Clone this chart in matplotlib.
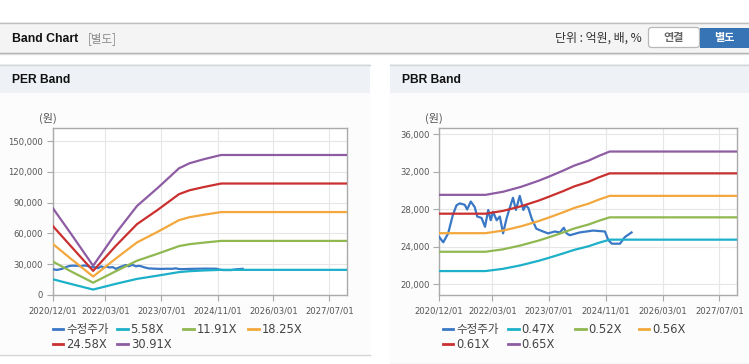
import numpy as np
import matplotlib
matplotlib.use("Agg")
import matplotlib.pyplot as plt
import matplotlib.dates as mdates
from matplotlib.patches import Rectangle, FancyBboxPatch
from matplotlib.lines import Line2D
from matplotlib.ticker import FuncFormatter, FixedLocator

plt.rcParams['font.family'] = ['DejaVu Sans', 'Noto Sans CJK KR']

# ---------------- data ----------------
price_dates = ['2020-12-01', '2021-01-04', '2021-02-15', '2021-03-28', '2021-04-28', '2021-05-25',
               '2021-07-07', '2021-07-28', '2021-08-28', '2021-10-01', '2021-10-22', '2021-11-28',
               '2021-12-28', '2022-01-25', '2022-02-15', '2022-03-07', '2022-04-07', '2022-05-04',
               '2022-06-01', '2022-07-01', '2022-07-28', '2022-08-25', '2022-09-19', '2022-10-22',
               '2022-11-22', '2022-12-13', '2023-01-04', '2023-02-01', '2023-03-13', '2023-05-10',
               '2023-06-22', '2023-08-19', '2023-10-01', '2023-11-04', '2023-11-28', '2023-12-25',
               '2024-03-19', '2024-07-13', '2024-10-22', '2024-11-19', '2024-12-19', '2025-02-28',
               '2025-04-10', '2025-06-07']
price = [25000, 24450, 25400, 27400, 28400, 28600,
         28450, 27950, 28800, 28200, 27200, 27050,
         26100, 27900, 26800, 27700, 26800, 27200,
         25400, 27000, 28100, 29200, 27900, 29400,
         27900, 28400, 28100, 27000, 25900, 25600,
         25400, 25600, 25500, 26000, 25400, 25200,
         25500, 25700, 25600, 24700, 24300, 24300,
         25000, 25500]

per_dates = ['2020-12-01', '2021-05-01', '2021-11-15', '2022-06-01', '2022-12-01', '2023-06-01',
             '2023-12-01', '2024-03-01', '2024-07-01', '2024-12-01', '2027-12-01']
per_labels = ['5.58X', '11.91X', '18.25X', '24.58X', '30.91X']
per_558 = [15300, 10900, 5300, 10900, 15700, 18900, 22300, 23200, 23900, 24500, 24500]
per_1191 = [32500, 23300, 12000, 23200, 33400, 40300, 47600, 49500, 51000, 52700, 52700]
per_1825 = [49600, 35700, 18000, 35600, 51200, 61700, 72900, 75800, 78100, 80800, 80800]
per_2458 = [67000, 48100, 23500, 48000, 69000, 83100, 98200, 102000, 105100, 108600, 108600]
per_3091 = [84400, 60500, 28500, 60300, 86700, 104500, 123400, 128300, 132200, 136400, 136400]

pbr_dates = ['2020-12-01', '2022-01-01', '2022-06-01', '2022-11-01', '2023-04-01', '2023-07-01',
             '2023-11-01', '2024-02-01', '2024-06-01', '2024-09-01', '2024-12-01', '2027-12-01']
pbr_labels = ['0.47X', '0.52X', '0.56X', '0.61X', '0.65X']
pbr_047 = [21380, 21380, 21620, 22000, 22470, 22800, 23270, 23640, 24020, 24400, 24730, 24730]
pbr_052 = [23440, 23440, 23700, 24120, 24630, 24990, 25510, 25920, 26340, 26750, 27110, 27110]
pbr_056 = [25420, 25420, 25700, 26150, 26710, 27100, 27660, 28110, 28560, 29010, 29400, 29400]
pbr_061 = [27500, 27500, 27800, 28290, 28890, 29320, 29920, 30410, 30890, 31380, 31800, 31800]
pbr_065 = [29510, 29510, 29840, 30360, 31010, 31460, 32110, 32630, 33150, 33670, 34130, 34130]

price_label = '수정주가'
x_ticks = ['2020-12-01', '2022-03-01', '2023-07-01', '2024-11-01', '2026-03-01', '2027-07-01']
x_range = ['2020-12-01', '2027-12-01']
per_yticks = [0, 30000, 60000, 90000, 120000, 150000]
pbr_yticks = [20000, 24000, 28000, 32000, 36000]

colors = ['#3a78c6', '#1cb0c9', '#8fb850', '#f2a83c', '#c9302f', '#8e5ca3']

# ---------------- figure ----------------
W, H = 749, 364
fig = plt.figure(figsize=(W / 100, H / 100), dpi=100, facecolor='white')


def rect(x0, y0, x1, y1, fc, z=-5):
    fig.add_artist(Rectangle((x0 / W, 1 - y1 / H), (x1 - x0) / W, (y1 - y0) / H,
                             transform=fig.transFigure, fc=fc, ec='none', lw=0, zorder=z))


def hline(x0, x1, y, color, lw=1.0, z=-4):
    fig.add_artist(Line2D([x0 / W, x1 / W], [1 - y / H, 1 - y / H], transform=fig.transFigure,
                          color=color, lw=lw, zorder=z))


def text(x, y, s, **kw):
    fig.text(x / W, 1 - y / H, s, **kw)


# header
rect(0, 22, 749, 53, '#f4f4f4')
hline(0, 749, 22.5, '#bdbdbd')
hline(0, 749, 52.5, '#a9a9a9')
hline(0, 749, 53.5, '#dedede')
text(11.5, 38.5, 'Band Chart', family='Liberation Sans', weight='bold', fontsize=8.8,
     va='center', color='#111111')
text(88, 38.5, '[별도]', family=['Noto Sans CJK KR'], fontsize=8.3, va='center', color='#8a8a8a')
text(642, 38.5, '단위 : 억원, 배, %', family=['Noto Sans CJK KR', 'DejaVu Sans'], fontsize=8.6,
     va='center', ha='right', color='#333333')
fig.add_artist(FancyBboxPatch((648.5 / 100, (H - 47.5) / 100), 51 / 100, 20 / 100,
                              boxstyle='round,pad=0,rounding_size=0.03',
                              transform=fig.dpi_scale_trans, fc='white', ec='#b8b8b8', lw=0.9,
                              zorder=-3))
text(674, 38, '연결', family=['Noto Sans CJK KR'], weight='bold', fontsize=8, va='center',
     ha='center', color='#666666')
rect(700, 27.7, 749, 47.7, '#3674b5', z=-3)
text(724.5, 38, '별도', family=['Noto Sans CJK KR'], weight='bold', fontsize=8, va='center',
     ha='center', color='white')

# panels
for x0, x1, ybot, title in [(0, 370, 354, 'PER Band'), (390, 749, 363, 'PBR Band')]:
    rect(x0, 64, x1, 92.5, '#eef2f7')
    rect(x0, 92.5, x1, ybot, '#fcfcfc')
    hline(x0, x1, 64.5, '#d4d4d4')
    hline(x0, x1, ybot + 0.5, '#d4d4d4')
    text(x0 + 11.7, 80, title, family='Liberation Sans', weight='bold', fontsize=8.7,
         va='center', color='#111111')

xt = [np.datetime64(d) for d in x_ticks]
xr = [np.datetime64(d) for d in x_range]


def style_axes(ax, yticks, ylim):
    ax.set_facecolor('white')
    ax.set_xlim(xr[0], xr[1])
    ax.set_ylim(*ylim)
    ax.xaxis.set_major_locator(FixedLocator(mdates.date2num(xt)))
    ax.xaxis.set_major_formatter(mdates.DateFormatter('%Y/%m/%d'))
    ax.yaxis.set_major_locator(FixedLocator(yticks))
    ax.yaxis.set_major_formatter(FuncFormatter(lambda v, p: f'{int(v):,}'))
    ax.grid(True, color='#e6e6e6', lw=0.8, zorder=0)
    ax.set_axisbelow(True)
    for s in ax.spines.values():
        s.set_color('#aaaaaa')
        s.set_linewidth(1.0)
    ax.tick_params(axis='both', length=4, width=0.8, color='#aaaaaa', labelsize=6.1,
                   labelcolor='#555555', pad=3)
    ax.tick_params(axis='x', pad=4)


def legend(x_cols, labels):
    for i, lab in enumerate(labels):
        xc = x_cols[i % 4]
        yc = 329.3 + 15 * (i // 4)
        fig.add_artist(Line2D([xc / W, (xc + 10.6) / W], [1 - yc / H, 1 - yc / H],
                              transform=fig.transFigure, color=colors[i], lw=2.0, zorder=5))
        text(xc + 13.3, yc, lab, fontsize=8.3, va='center', ha='left', color='#444444')


# PER
axL = fig.add_axes([53 / W, 1 - 295 / H, 294 / W, 167 / H])
pd_ = [np.datetime64(d) for d in price_dates]
perd = [np.datetime64(d) for d in per_dates]
axL.plot(pd_, price, color=colors[0], lw=1.6, zorder=3)
for i, ser in enumerate([per_558, per_1191, per_1825, per_2458, per_3091]):
    axL.plot(perd, ser, color=colors[i + 1], lw=1.6, zorder=3)
style_axes(axL, per_yticks, (0, 162700))
text(48, 118, '(원)', family=['Noto Sans CJK KR'], fontsize=8, ha='center', va='center',
     color='#555555')
legend([52.7, 117.3, 183, 248], [price_label] + per_labels)

# PBR
axR = fig.add_axes([439.3 / W, 1 - 295.3 / H, 298 / W, 167 / H])
pbrd = [np.datetime64(d) for d in pbr_dates]
axR.plot(pd_, price, color=colors[0], lw=1.6, zorder=3)
for i, ser in enumerate([pbr_047, pbr_052, pbr_056, pbr_061, pbr_065]):
    axR.plot(pbrd, ser, color=colors[i + 1], lw=1.6, zorder=3)
style_axes(axR, pbr_yticks, (18795, 36608))
text(434, 118.3, '(원)', family=['Noto Sans CJK KR'], fontsize=8, ha='center', va='center',
     color='#555555')
legend([442.7, 508, 575, 638.5], [price_label] + pbr_labels)

fig.savefig('out.png', dpi=100, facecolor='white')
